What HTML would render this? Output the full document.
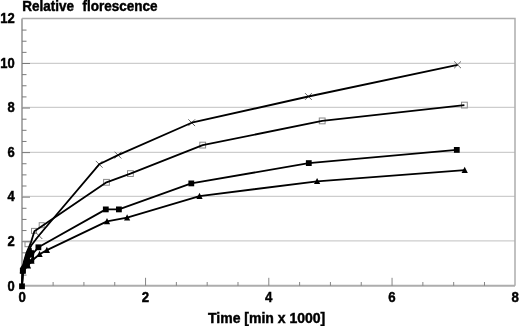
<!DOCTYPE html>
<html><head><meta charset="utf-8"><style>
html,body{margin:0;padding:0;background:#fff;width:520px;height:326px;overflow:hidden}
svg{display:block;filter:grayscale(1)}
text{font-family:"Liberation Sans",sans-serif}
</style></head><body>
<svg width="520" height="326" viewBox="0 0 520 326">
<line x1="22.0" y1="63.30" x2="515.0" y2="63.30" stroke="#cdcdcd" stroke-width="1.2"/>
<line x1="22.0" y1="107.45" x2="515.0" y2="107.45" stroke="#cdcdcd" stroke-width="1.2"/>
<line x1="22.0" y1="152.30" x2="515.0" y2="152.30" stroke="#cdcdcd" stroke-width="1.2"/>
<line x1="22.0" y1="196.40" x2="515.0" y2="196.40" stroke="#cdcdcd" stroke-width="1.2"/>
<line x1="22.0" y1="240.90" x2="515.0" y2="240.90" stroke="#cdcdcd" stroke-width="1.2"/>
<polyline points="22.0,18.5 515.0,18.5 515.0,285.8" fill="none" stroke="#adadad" stroke-width="1.5"/>
<line x1="22.0" y1="18.5" x2="22.0" y2="286.8" stroke="#adadad" stroke-width="2"/>
<line x1="21.0" y1="285.8" x2="515.0" y2="285.8" stroke="#adadad" stroke-width="2"/>
<line x1="22.0" y1="275.11" x2="26.5" y2="275.11" stroke="#7a7a7a" stroke-width="1"/>
<line x1="22.0" y1="263.98" x2="26.5" y2="263.98" stroke="#7a7a7a" stroke-width="1"/>
<line x1="22.0" y1="252.84" x2="26.5" y2="252.84" stroke="#7a7a7a" stroke-width="1"/>
<line x1="22.0" y1="241.70" x2="30.0" y2="241.70" stroke="#7a7a7a" stroke-width="1"/>
<line x1="22.0" y1="230.56" x2="26.5" y2="230.56" stroke="#7a7a7a" stroke-width="1"/>
<line x1="22.0" y1="219.43" x2="26.5" y2="219.43" stroke="#7a7a7a" stroke-width="1"/>
<line x1="22.0" y1="208.29" x2="26.5" y2="208.29" stroke="#7a7a7a" stroke-width="1"/>
<line x1="22.0" y1="197.15" x2="30.0" y2="197.15" stroke="#7a7a7a" stroke-width="1"/>
<line x1="22.0" y1="186.01" x2="26.5" y2="186.01" stroke="#7a7a7a" stroke-width="1"/>
<line x1="22.0" y1="174.88" x2="26.5" y2="174.88" stroke="#7a7a7a" stroke-width="1"/>
<line x1="22.0" y1="163.74" x2="26.5" y2="163.74" stroke="#7a7a7a" stroke-width="1"/>
<line x1="22.0" y1="152.60" x2="30.0" y2="152.60" stroke="#7a7a7a" stroke-width="1"/>
<line x1="22.0" y1="141.46" x2="26.5" y2="141.46" stroke="#7a7a7a" stroke-width="1"/>
<line x1="22.0" y1="130.32" x2="26.5" y2="130.32" stroke="#7a7a7a" stroke-width="1"/>
<line x1="22.0" y1="119.19" x2="26.5" y2="119.19" stroke="#7a7a7a" stroke-width="1"/>
<line x1="22.0" y1="108.05" x2="30.0" y2="108.05" stroke="#7a7a7a" stroke-width="1"/>
<line x1="22.0" y1="96.91" x2="26.5" y2="96.91" stroke="#7a7a7a" stroke-width="1"/>
<line x1="22.0" y1="85.77" x2="26.5" y2="85.77" stroke="#7a7a7a" stroke-width="1"/>
<line x1="22.0" y1="74.64" x2="26.5" y2="74.64" stroke="#7a7a7a" stroke-width="1"/>
<line x1="22.0" y1="63.50" x2="30.0" y2="63.50" stroke="#7a7a7a" stroke-width="1"/>
<line x1="22.0" y1="52.36" x2="26.5" y2="52.36" stroke="#7a7a7a" stroke-width="1"/>
<line x1="22.0" y1="41.23" x2="26.5" y2="41.23" stroke="#7a7a7a" stroke-width="1"/>
<line x1="22.0" y1="30.09" x2="26.5" y2="30.09" stroke="#7a7a7a" stroke-width="1"/>
<line x1="53.11" y1="285.8" x2="53.11" y2="282.0" stroke="#858585" stroke-width="1"/>
<line x1="83.92" y1="285.8" x2="83.92" y2="282.0" stroke="#858585" stroke-width="1"/>
<line x1="114.74" y1="285.8" x2="114.74" y2="282.0" stroke="#858585" stroke-width="1"/>
<line x1="145.55" y1="285.8" x2="145.55" y2="277.8" stroke="#858585" stroke-width="1"/>
<line x1="176.36" y1="285.8" x2="176.36" y2="282.0" stroke="#858585" stroke-width="1"/>
<line x1="207.18" y1="285.8" x2="207.18" y2="282.0" stroke="#858585" stroke-width="1"/>
<line x1="237.99" y1="285.8" x2="237.99" y2="282.0" stroke="#858585" stroke-width="1"/>
<line x1="268.80" y1="285.8" x2="268.80" y2="277.8" stroke="#858585" stroke-width="1"/>
<line x1="299.61" y1="285.8" x2="299.61" y2="282.0" stroke="#858585" stroke-width="1"/>
<line x1="330.43" y1="285.8" x2="330.43" y2="282.0" stroke="#858585" stroke-width="1"/>
<line x1="361.24" y1="285.8" x2="361.24" y2="282.0" stroke="#858585" stroke-width="1"/>
<line x1="392.05" y1="285.8" x2="392.05" y2="277.8" stroke="#858585" stroke-width="1"/>
<line x1="422.86" y1="285.8" x2="422.86" y2="282.0" stroke="#858585" stroke-width="1"/>
<line x1="453.68" y1="285.8" x2="453.68" y2="282.0" stroke="#858585" stroke-width="1"/>
<line x1="484.49" y1="285.8" x2="484.49" y2="282.0" stroke="#858585" stroke-width="1"/>
<rect x="25.00" y="241.70" width="5.0" height="5.0" fill="none" stroke="#8a8a8a" stroke-width="1"/>
<rect x="31.50" y="228.40" width="5.0" height="5.0" fill="none" stroke="#8a8a8a" stroke-width="1"/>
<rect x="39.20" y="222.70" width="5.0" height="5.0" fill="none" stroke="#8a8a8a" stroke-width="1"/>
<rect x="103.60" y="179.40" width="5.8" height="5.8" fill="none" stroke="#8a8a8a" stroke-width="1"/>
<rect x="127.50" y="170.70" width="5.8" height="5.8" fill="none" stroke="#8a8a8a" stroke-width="1"/>
<rect x="199.80" y="142.20" width="5.8" height="5.8" fill="none" stroke="#8a8a8a" stroke-width="1"/>
<rect x="319.30" y="118.00" width="5.8" height="5.8" fill="none" stroke="#8a8a8a" stroke-width="1"/>
<rect x="461.50" y="102.20" width="5.8" height="5.8" fill="none" stroke="#8a8a8a" stroke-width="1"/>
<path d="M35.50,232.20L42.30,239.00M35.50,239.00L42.30,232.20" stroke="#666" stroke-width="1"/>
<path d="M95.80,160.90L102.60,167.70M95.80,167.70L102.60,160.90" stroke="#666" stroke-width="1"/>
<path d="M114.60,151.70L121.40,158.50M114.60,158.50L121.40,151.70" stroke="#666" stroke-width="1"/>
<path d="M188.30,119.30L195.10,126.10M188.30,126.10L195.10,119.30" stroke="#666" stroke-width="1"/>
<path d="M305.00,93.10L311.80,99.90M305.00,99.90L311.80,93.10" stroke="#666" stroke-width="1"/>
<path d="M454.20,61.40L461.00,68.20M454.20,68.20L461.00,61.40" stroke="#666" stroke-width="1"/>
<polyline points="22,286.3 22.8,270.8 25,262 28,254 30.1,247.8 31.4,245.3 38.9,235.5 99.2,164.3 118,155.1 191.7,122.7 308.4,96.5 457.6,64.8" fill="none" stroke="#000" stroke-width="1.8" stroke-linejoin="round"/>
<polyline points="22,286.3 22.8,270.8 23.8,262 26.6,252.6 29.2,246.5 30.8,243 34.4,231.3 106.5,182.3 130.4,173.6 202.7,145.1 322.2,120.9 464.4,105.1" fill="none" stroke="#000" stroke-width="1.8" stroke-linejoin="round"/>
<polyline points="22,286.3 22.8,270.8 24.5,265.5 27.5,260 31,255.5 38.4,247.3 105.8,209.4 118.9,209.4 191.3,183.4 308.8,163.1 456.8,149.9" fill="none" stroke="#000" stroke-width="1.8" stroke-linejoin="round"/>
<polyline points="22,286.3 22.8,270.8 28,265.5 31.5,261 39.6,254.2 46.9,250.1 107,221.4 127.1,217.6 199.5,196.1 317.1,181.3 464.7,170.1" fill="none" stroke="#000" stroke-width="1.8" stroke-linejoin="round"/>
<polygon points="29.5,248 26.5,252 25.3,255.8 22.9,263.7 20.4,267.6 19.8,273.5 25.6,273.5 25.9,268.5 27,268.2 29.6,266.5 30,263.5 34.2,262.8 34.3,259 34,256 34.6,252 33.5,250 31.5,248" fill="#000"/><ellipse cx="31" cy="258.5" rx="1.1" ry="1.1" fill="#fff"/><ellipse cx="32.6" cy="249" rx="0.9" ry="1.2" fill="#fff"/>
<rect x="19.10" y="283.40" width="5.8" height="5.8" fill="#000"/>
<rect x="19.90" y="267.90" width="5.8" height="5.8" fill="#000"/>
<rect x="35.50" y="244.40" width="5.8" height="5.8" fill="#000"/>
<rect x="102.90" y="206.50" width="5.8" height="5.8" fill="#000"/>
<rect x="116.00" y="206.50" width="5.8" height="5.8" fill="#000"/>
<rect x="188.40" y="180.50" width="5.8" height="5.8" fill="#000"/>
<rect x="305.90" y="160.20" width="5.8" height="5.8" fill="#000"/>
<rect x="453.90" y="147.00" width="5.8" height="5.8" fill="#000"/>
<path d="M28.00,262.19L31.10,268.39L24.90,268.39Z" fill="#000"/>
<path d="M31.50,257.59L34.60,263.79L28.40,263.79Z" fill="#000"/>
<path d="M39.60,250.79L42.70,256.99L36.50,256.99Z" fill="#000"/>
<path d="M46.90,246.69L50.00,252.89L43.80,252.89Z" fill="#000"/>
<path d="M107.00,217.99L110.10,224.19L103.90,224.19Z" fill="#000"/>
<path d="M127.10,214.19L130.20,220.39L124.00,220.39Z" fill="#000"/>
<path d="M199.50,192.69L202.60,198.89L196.40,198.89Z" fill="#000"/>
<path d="M317.10,177.89L320.20,184.09L314.00,184.09Z" fill="#000"/>
<path d="M464.70,166.69L467.80,172.89L461.60,172.89Z" fill="#000"/>
<text transform="translate(14.7,290.55) scale(0.94,1)" text-anchor="end" font-size="13.8" font-family="Liberation Sans, sans-serif" font-weight="bold" stroke="#000" stroke-width="0.45">0</text>
<text transform="translate(14.7,246.00) scale(0.94,1)" text-anchor="end" font-size="13.8" font-family="Liberation Sans, sans-serif" font-weight="bold" stroke="#000" stroke-width="0.45">2</text>
<text transform="translate(14.7,201.45) scale(0.94,1)" text-anchor="end" font-size="13.8" font-family="Liberation Sans, sans-serif" font-weight="bold" stroke="#000" stroke-width="0.45">4</text>
<text transform="translate(14.7,156.90) scale(0.94,1)" text-anchor="end" font-size="13.8" font-family="Liberation Sans, sans-serif" font-weight="bold" stroke="#000" stroke-width="0.45">6</text>
<text transform="translate(14.7,112.35) scale(0.94,1)" text-anchor="end" font-size="13.8" font-family="Liberation Sans, sans-serif" font-weight="bold" stroke="#000" stroke-width="0.45">8</text>
<text transform="translate(14.7,67.80) scale(0.94,1)" text-anchor="end" font-size="13.8" font-family="Liberation Sans, sans-serif" font-weight="bold" stroke="#000" stroke-width="0.45">10</text>
<text transform="translate(14.7,23.25) scale(0.94,1)" text-anchor="end" font-size="13.8" font-family="Liberation Sans, sans-serif" font-weight="bold" stroke="#000" stroke-width="0.45">12</text>
<text transform="translate(22.20,302.1) scale(0.92,1)" text-anchor="middle" font-size="14.4" font-family="Liberation Sans, sans-serif" font-weight="bold" stroke="#000" stroke-width="0.45">0</text>
<text transform="translate(145.45,302.1) scale(0.92,1)" text-anchor="middle" font-size="14.4" font-family="Liberation Sans, sans-serif" font-weight="bold" stroke="#000" stroke-width="0.45">2</text>
<text transform="translate(268.70,302.1) scale(0.92,1)" text-anchor="middle" font-size="14.4" font-family="Liberation Sans, sans-serif" font-weight="bold" stroke="#000" stroke-width="0.45">4</text>
<text transform="translate(391.95,302.1) scale(0.92,1)" text-anchor="middle" font-size="14.4" font-family="Liberation Sans, sans-serif" font-weight="bold" stroke="#000" stroke-width="0.45">6</text>
<text transform="translate(515.20,302.1) scale(0.92,1)" text-anchor="middle" font-size="14.4" font-family="Liberation Sans, sans-serif" font-weight="bold" stroke="#000" stroke-width="0.45">8</text>
<text transform="translate(22.2,10.8) scale(0.965,1)" font-size="14" font-family="Liberation Sans, sans-serif" font-weight="bold" stroke="#000" stroke-width="0.45">Relative</text>
<text transform="translate(82.5,10.8) scale(0.965,1)" font-size="14" font-family="Liberation Sans, sans-serif" font-weight="bold" stroke="#000" stroke-width="0.45">florescence</text>
<text x="208" y="322.5" font-size="14" font-family="Liberation Sans, sans-serif" font-weight="bold" stroke="#000" stroke-width="0.45">Time [min x 1000]</text>
</svg>
</body></html>
